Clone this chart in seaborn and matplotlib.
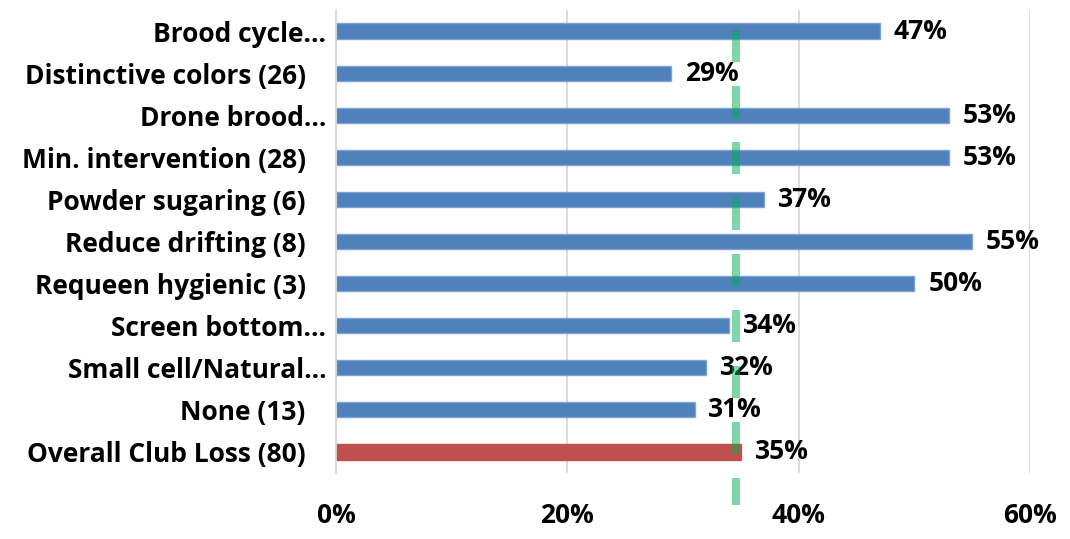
import matplotlib
matplotlib.use("Agg")
import matplotlib.pyplot as plt
import seaborn as sns
import pandas as pd

categories = [
    "Brood cycle…",
    "Distinctive colors (26)   ",
    "Drone brood…",
    "Min. intervention (28)   ",
    "Powder sugaring (6)   ",
    "Reduce drifting (8)   ",
    "Requeen hygienic (3)   ",
    "Screen bottom…",
    "Small cell/Natural…",
    "None (13)   ",
    "Overall Club Loss (80)   ",
]
loss_pct = [47, 29, 53, 53, 37, 55, 50, 34, 32, 31, 35]
club_average = 34.6
tick_values = [0, 20, 40, 60]
tick_labels = ["0%", "20%", "40%", "60%"]

BLUE = "#4F81BD"
RED = "#C0504D"
palette = [BLUE] * (len(categories) - 1) + [RED]
edge = ["#7FA3D1"] * (len(categories) - 1) + [RED]

sns.set_theme(style="white")
plt.rcParams["font.family"] = ["Open Sans", "DejaVu Sans"]
plt.rcParams["font.weight"] = "bold"
FS = 19

df = pd.DataFrame({"category": categories, "loss": loss_pct})

fig = plt.figure(figsize=(10.70, 5.39), dpi=100)
ax = fig.add_axes([0.314, 0.1224, 0.9626 - 0.314, 0.9814 - 0.1224])

sns.barplot(data=df, x="loss", y="category", hue="category", palette=palette,
            orient="h", width=0.36, legend=False, ax=ax, saturation=1, zorder=2)
for patch, ec in zip(ax.patches, edge):
    patch.set_edgecolor(ec)
    patch.set_linewidth(1.0)

ax.set_xlim(0, 60)
ax.set_ylim(len(categories) - 0.5, -0.5)
ax.set_xticks(tick_values)
ax.set_xticklabels(tick_labels)
ax.set_xlabel("")
ax.set_ylabel("")
ax.grid(axis="x", color="#D9D9D9", linewidth=1.3, zorder=0)
ax.set_axisbelow(True)
for side in ["top", "right", "bottom"]:
    ax.spines[side].set_visible(False)
ax.spines["left"].set_color("#D9D9D9")
ax.spines["left"].set_linewidth(1.3)

ax.tick_params(axis="y", length=0, pad=7, labelsize=FS)
ax.tick_params(axis="x", length=0, pad=21, labelsize=FS)
for lbl in ax.get_yticklabels() + ax.get_xticklabels():
    lbl.set_fontweight("bold")
    lbl.set_color("black")

# value labels
for i, v in enumerate(loss_pct):
    ax.annotate(f"{v}%", xy=(v, i), xytext=(10, 0), textcoords="offset points",
                ha="left", va="center", fontsize=FS, fontweight="bold",
                color="black", zorder=3)

# club average reference line
ax.plot([club_average, club_average], [-0.02, 11.26], color="#00B050", alpha=0.5,
        linewidth=5.76, linestyle=(0, (4, 3)), solid_capstyle="butt",
        dash_capstyle="butt", clip_on=False, zorder=4)

fig.savefig("out.png", dpi=100)
